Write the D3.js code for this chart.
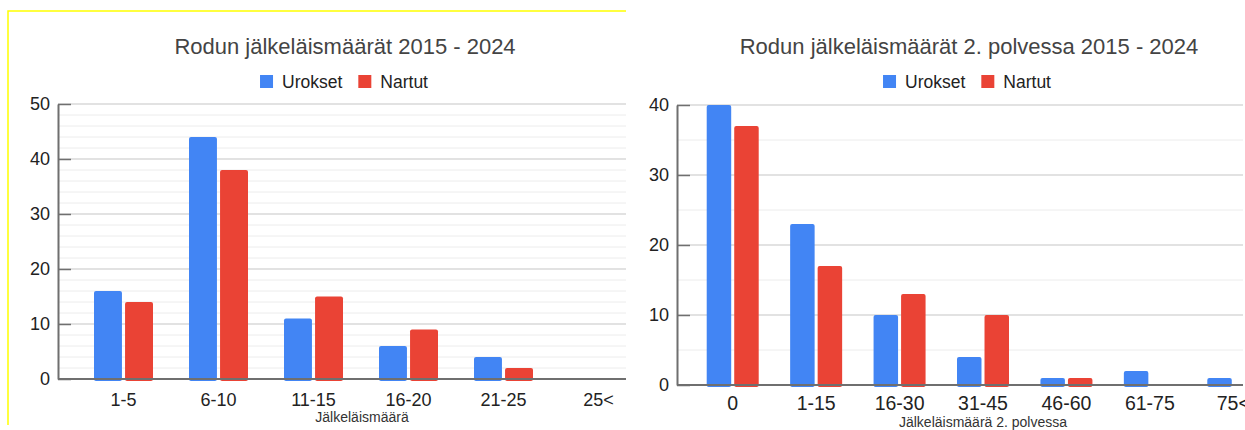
<!DOCTYPE html>
<html>
<head>
<meta charset="utf-8">
<script src="https://cdn.jsdelivr.net/npm/d3@7"></script>
<style>
  body { margin: 0; background: #fff; }
  svg { display: block; font-family: "Liberation Sans", Arial, sans-serif; }
</style>
</head>
<body>
<svg width="1245" height="430"></svg>
<script>
// Data
const seriesNames = ['Urokset', 'Nartut'];
const seriesColors = ['#4285f4', '#ea4335'];

const categories1 = ['1-5', '6-10', '11-15', '16-20', '21-25', '25<'];
const urokset1 = [16, 44, 11, 6, 4, 0];
const nartut1 = [14, 38, 15, 9, 2, 0];
const yTicks1 = [0, 10, 20, 30, 40, 50];

const categories2 = ['0', '1-15', '16-30', '31-45', '46-60', '61-75', '75<'];
const urokset2 = [40, 23, 10, 4, 1, 2, 1];
const nartut2 = [37, 17, 13, 10, 1, 0, 0];
const yTicks2 = [0, 10, 20, 30, 40];

const svg = d3.select('svg');

const drawChart = (cfg) => {
  const g = svg.append('g');

  const clipId = `clip-${cfg.id}`;
  svg.append('clipPath')
    .attr('id', clipId)
    .append('rect')
    .attr('x', cfg.axisX - 20)
    .attr('y', 0)
    .attr('width', cfg.clipRight - cfg.axisX + 20)
    .attr('height', 430);

  const x0 = d3.scaleBand()
    .domain(cfg.categories)
    .range(cfg.xRange)
    .padding(0);

  const x1 = d3.scaleBand()
    .domain(seriesNames)
    .range([-cfg.groupWidth / 2, cfg.groupWidth / 2])
    .paddingInner(cfg.barGap);

  const y = d3.scaleLinear()
    .domain([0, d3.max(cfg.yTicks)])
    .range(cfg.yRange);

  const plot = g.append('g').attr('clip-path', `url(#${clipId})`);

  // minor + major grid lines
  const minor = d3.range(0, d3.max(cfg.yTicks) + 0.001, cfg.minorStep)
    .filter((v) => !cfg.yTicks.includes(v));
  plot.selectAll('.minor')
    .data(minor)
    .enter()
    .append('line')
    .attr('x1', cfg.axisX)
    .attr('x2', cfg.clipRight)
    .attr('y1', (d) => y(d))
    .attr('y2', (d) => y(d))
    .attr('stroke', '#ececec')
    .attr('stroke-width', 1);
  plot.selectAll('.major')
    .data(cfg.yTicks.filter((v) => v > 0))
    .enter()
    .append('line')
    .attr('x1', cfg.axisX)
    .attr('x2', cfg.clipRight)
    .attr('y1', (d) => y(d))
    .attr('y2', (d) => y(d))
    .attr('stroke', '#d9d9d9')
    .attr('stroke-width', 1.5);

  // bars
  const rows = cfg.categories.map((c, i) => ({
    cat: c,
    values: [cfg.urokset[i], cfg.nartut[i]],
  }));

  const groups = plot.selectAll('.grp')
    .data(rows)
    .enter()
    .append('g')
    .attr('transform', (d) => `translate(${x0(d.cat) + x0.bandwidth() / 2},0)`);

  groups.selectAll('rect')
    .data((d) => d.values.map((v, i) => ({ key: seriesNames[i], v, color: seriesColors[i] })))
    .enter()
    .filter((d) => d.v > 0)
    .append('rect')
    .attr('x', (d) => x1(d.key))
    .attr('y', (d) => y(d.v))
    .attr('width', x1.bandwidth())
    .attr('height', (d) => y(0) - y(d.v) + 2)
    .attr('rx', 2)
    .attr('fill', (d) => d.color);

  // baseline
  plot.append('line')
    .attr('x1', cfg.axisX)
    .attr('x2', cfg.clipRight)
    .attr('y1', y(0))
    .attr('y2', y(0))
    .attr('stroke', '#6f6f6f')
    .attr('stroke-width', 2);

  // y axis with inward ticks
  const yAxis = g.append('g')
    .attr('transform', `translate(${cfg.axisX},0)`)
    .call(d3.axisLeft(y).tickValues(cfg.yTicks).tickSizeInner(-13).tickSizeOuter(0).tickPadding(8));
  yAxis.select('.domain').attr('stroke', '#6f6f6f').attr('stroke-width', 2);
  yAxis.selectAll('.tick line').attr('stroke', '#6f6f6f').attr('stroke-width', 1.5);
  yAxis.selectAll('.tick text')
    .attr('font-size', cfg.yFont)
    .attr('fill', '#222')
    .attr('font-family', '"Liberation Sans", Arial, sans-serif');

  // x axis labels
  const xAxis = g.append('g')
    .attr('transform', `translate(0,${y(0)})`)
    .call(d3.axisBottom(x0).tickSize(0).tickPadding(cfg.xPad));
  xAxis.select('.domain').remove();
  xAxis.selectAll('.tick text')
    .attr('font-size', cfg.xFont)
    .attr('fill', '#222')
    .attr('font-family', '"Liberation Sans", Arial, sans-serif');

  // titles
  g.append('text')
    .attr('x', cfg.titleX)
    .attr('y', 54)
    .attr('text-anchor', 'middle')
    .attr('font-size', 22)
    .attr('fill', '#444')
    .text(cfg.title);

  g.append('text')
    .attr('x', cfg.xTitleX)
    .attr('y', cfg.xTitleY)
    .attr('text-anchor', 'middle')
    .attr('font-size', 14)
    .attr('fill', '#333')
    .text(cfg.xTitle);

  // legend, centred on legendX
  const legend = g.append('g');
  let lx = 0;
  seriesNames.forEach((name, i) => {
    legend.append('rect')
      .attr('x', lx)
      .attr('y', 75)
      .attr('width', 13)
      .attr('height', 13)
      .attr('fill', seriesColors[i]);
    const t = legend.append('text')
      .attr('x', lx + 22)
      .attr('y', 88)
      .attr('font-size', 17.5)
      .attr('fill', '#222')
      .text(name);
    lx += 22 + t.node().getComputedTextLength() + (i < seriesNames.length - 1 ? 16 : 0);
  });
  legend.attr('transform', `translate(${cfg.legendX - lx / 2},0)`);
};

drawChart({
  id: 'a',
  categories: categories1,
  urokset: urokset1,
  nartut: nartut1,
  yTicks: yTicks1,
  minorStep: 2,
  axisX: 58,
  clipRight: 626,
  xRange: [76, 646],
  yRange: [379, 104],
  groupWidth: 59,
  barGap: 0.1,
  yFont: 18,
  xFont: 18,
  xPad: 14,
  title: 'Rodun jälkeläismäärät 2015 - 2024',
  titleX: 345,
  xTitle: 'Jälkeläismäärä',
  xTitleX: 362,
  xTitleY: 422,
  legendX: 344,
});

drawChart({
  id: 'b',
  categories: categories2,
  urokset: urokset2,
  nartut: nartut2,
  yTicks: yTicks2,
  minorStep: 5,
  axisX: 677,
  clipRight: 1243,
  xRange: [691, 1275],
  yRange: [385, 105],
  groupWidth: 52,
  barGap: 0.11,
  yFont: 18,
  xFont: 19.5,
  xPad: 11,
  title: 'Rodun jälkeläismäärät 2. polvessa 2015 - 2024',
  titleX: 969,
  xTitle: 'Jälkeläismäärä 2. polvessa',
  xTitleX: 983,
  xTitleY: 427,
  legendX: 967,
});

// yellow frame of the left screenshot
svg.append('path')
  .attr('d', 'M8,425 V11 H626')
  .attr('fill', 'none')
  .attr('stroke', '#ffff00')
  .attr('stroke-width', 1.5);
</script>
</body>
</html>
